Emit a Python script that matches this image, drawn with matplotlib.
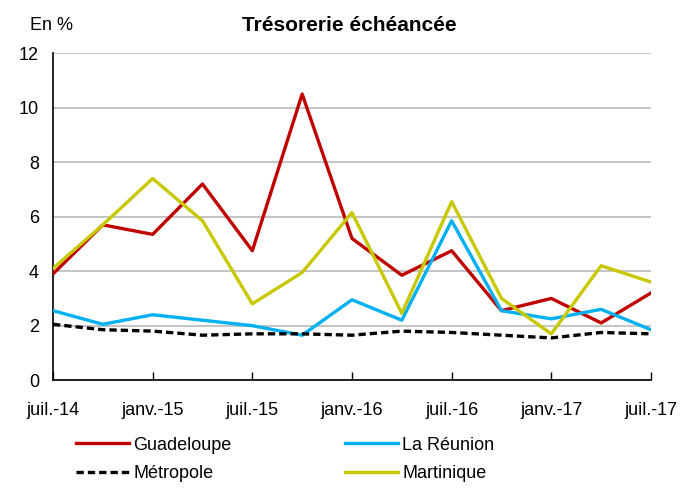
import numpy as np
import matplotlib.pyplot as plt

plt.rcParams['font.family'] = ['Liberation Sans Narrow', 'Liberation Sans', 'DejaVu Sans']

# Données trimestrielles (juil.-14 à juil.-17)
periodes = np.arange(13)
tick_labels = ['juil.-14', 'janv.-15', 'juil.-15', 'janv.-16', 'juil.-16', 'janv.-17', 'juil.-17']

guadeloupe = [3.9, 5.7, 5.35, 7.2, 4.75, 10.5, 5.2, 3.85, 4.75, 2.55, 3.0, 2.1, 3.2]
la_reunion = [2.55, 2.05, 2.4, 2.2, 2.0, 1.65, 2.95, 2.2, 5.85, 2.55, 2.25, 2.6, 1.85]
metropole = [2.05, 1.85, 1.8, 1.65, 1.7, 1.7, 1.65, 1.8, 1.75, 1.65, 1.55, 1.75, 1.7]
martinique = [4.1, 5.7, 7.4, 5.85, 2.8, 3.95, 6.15, 2.45, 6.55, 3.0, 1.7, 4.2, 3.6]

fig = plt.figure(figsize=(6.83, 4.88), dpi=100)
ax = fig.add_axes([0.0776, 0.221, 0.8755, 0.670])

lw = 2.4
ax.plot(periodes, guadeloupe, color='#C00000', lw=lw, label='Guadeloupe', zorder=3)
ax.plot(periodes, la_reunion, color='#00B0F0', lw=lw, label='La Réunion', zorder=3)
ax.plot(periodes, metropole, color='black', lw=lw, ls=(0, (2.2, 1.2)), label='Métropole', zorder=3)
ax.plot(periodes, martinique, color='#C8C800', lw=lw, label='Martinique', zorder=4)

ax.set_xlim(0, 12)
ax.set_ylim(0, 12)
ax.set_yticks(range(0, 13, 2))
ax.set_xticks(range(0, 13, 2))
ax.set_xticklabels(tick_labels)
ax.yaxis.grid(True, color='#BFBFBF', lw=1.3)
ax.set_axisbelow(True)
for s in ['top', 'right']:
    ax.spines[s].set_visible(False)
ax.spines['left'].set_linewidth(1.2)
ax.spines['bottom'].set_linewidth(1.2)
ax.tick_params(axis='y', length=0, pad=10, labelsize=13)
ax.tick_params(axis='x', direction='in', length=6, width=1, pad=16, labelsize=13)

fig.text(0.512, 0.948, 'Trésorerie échéancée', ha='center', va='center',
         fontsize=15, fontweight='bold')
fig.text(0.044, 0.948, 'En %', ha='left', va='center', fontsize=13)

handles, labels = ax.get_legend_handles_labels()
fig.legend([handles[0], handles[2], handles[1], handles[3]],
           [labels[0], labels[2], labels[1], labels[3]],
           ncol=2, loc='lower left', bbox_to_anchor=(0.088, -0.022),
           frameon=False, fontsize=13, handlelength=2.9, handletextpad=0.25,
           columnspacing=6.3, labelspacing=0.65)

fig.savefig('out.png', dpi=100)
